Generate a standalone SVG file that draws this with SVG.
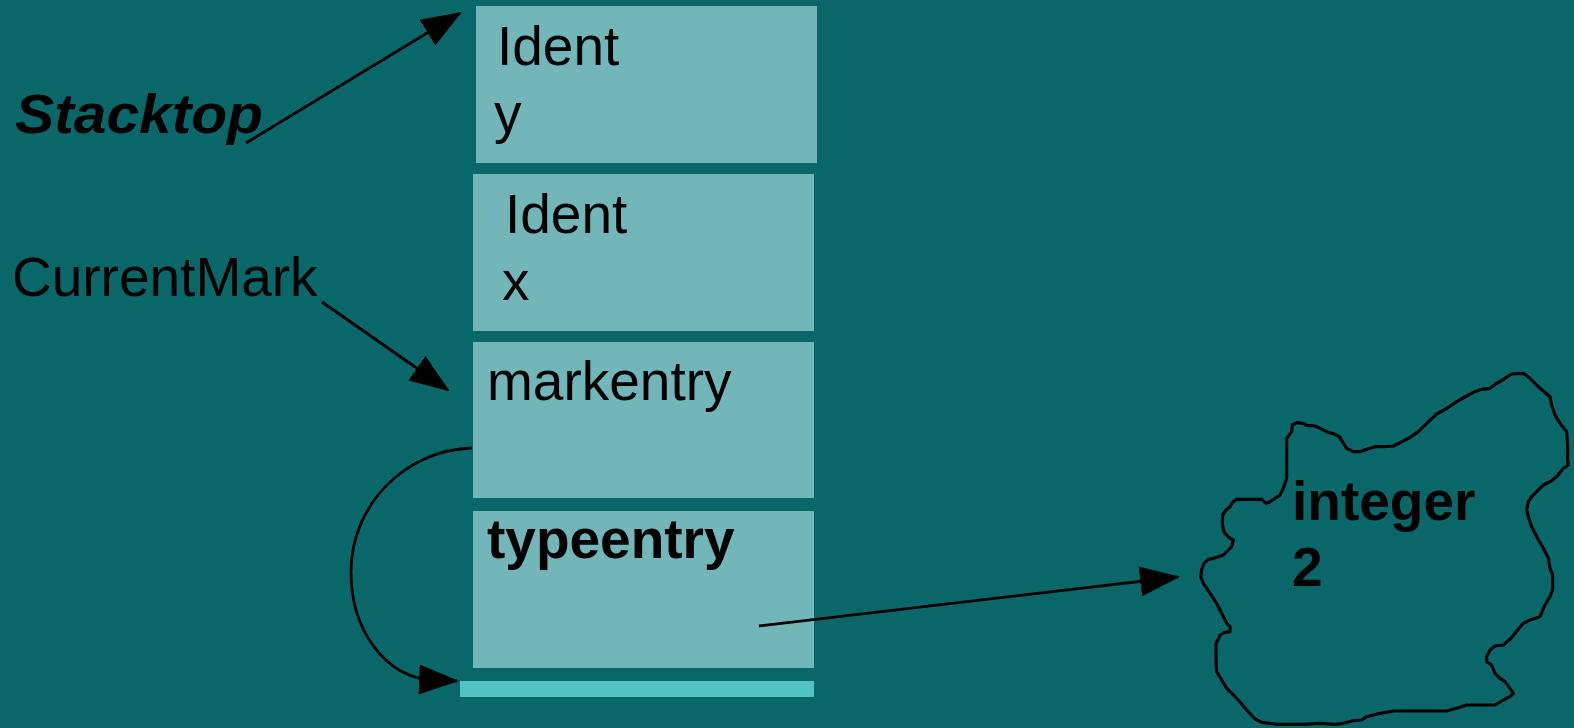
<svg xmlns="http://www.w3.org/2000/svg" width="1574" height="728" viewBox="0 0 1574 728">
<defs>
<style>
.bg{fill:#0a6769}
.box{fill:#72b6b9}
.bar{fill:#52c4c4}
.t{font-family:"Liberation Sans",Arial,sans-serif;font-size:55px;fill:#000}
.b{font-weight:bold}
.c{fill:none;stroke:#000;stroke-width:2.8}
</style>
<marker id="ah" markerUnits="userSpaceOnUse" viewBox="0 0 40 30" markerWidth="40" markerHeight="30" refX="38" refY="15" orient="auto">
<path d="M0,0 L40,15 L0,30 Z" fill="#000"/>
</marker>
</defs>
<rect class="bg" x="0" y="0" width="1574" height="728"/>
<g id="node-ident-y">
<rect class="box" x="476" y="6" width="341" height="157"/>
<text class="t" x="497" y="65">Ident</text>
<text class="t" x="494" y="132">y</text>
</g>
<g id="node-ident-x">
<rect class="box" x="473" y="174" width="341" height="157"/>
<text class="t" x="505" y="233">Ident</text>
<text class="t" x="502" y="300">x</text>
</g>
<g id="node-markentry">
<rect class="box" x="473" y="342" width="341" height="156"/>
<text class="t" x="487" y="400">markentry</text>
</g>
<g id="node-typeentry">
<rect class="box" x="473" y="511" width="341" height="157"/>
<text class="t b" x="487" y="558">typeentry</text>
</g>
<g id="node-bar">
<rect class="bar" x="460" y="681" width="354" height="16"/>
</g>
<g id="label-stacktop">
<text class="t b" x="15" y="133" font-style="italic" font-size="65" textLength="248" lengthAdjust="spacingAndGlyphs">Stacktop</text>
</g>
<g id="label-currentmark">
<text class="t" x="12" y="296">CurrentMark</text>
</g>
<g id="node-integer">
<path transform="translate(1180,360) scale(0.33333)" fill="none" stroke="#000" stroke-width="9.5" stroke-linejoin="round" d="M320,235 L335,215 L337,195 L350,188 L370,190 L380,196 L405,198 L420,205 L440,215 L462,222 L478,230 L490,250 L500,265 L520,275 L540,275 L560,268 L585,260 L610,260 L640,258 L660,248 L690,232 L715,215 L740,190 L770,162 L800,145 L830,125 L860,108 L885,95 L905,88 L930,85 L950,70 L975,55 L995,42 L1030,40 L1050,55 L1080,85 L1110,110 L1115,135 L1125,165 L1140,190 L1160,215 L1163,260 L1163,300 L1165,315 L1150,325 L1130,350 L1110,365 L1090,375 L1070,395 L1055,410 L1045,425 L1040,450 L1045,470 L1055,500 L1070,530 L1090,565 L1105,595 L1110,625 L1118,645 L1118,690 L1110,710 L1095,735 L1080,770 L1050,780 L1030,790 L1005,820 L990,838 L970,855 L945,858 L930,870 L920,890 L920,905 L935,915 L945,940 L960,955 L975,965 L990,985 L1000,1000 L990,1010 L970,1020 L945,1035 L910,1035 L860,1035 L830,1045 L800,1053 L760,1053 L700,1053 L640,1053 L600,1060 L560,1070 L545,1080 L520,1082 L490,1090 L465,1093 L420,1090 L370,1093 L330,1093 L290,1093 L245,1087 L225,1077 L200,1050 L175,1020 L150,995 L140,985 L125,960 L110,935 L108,900 L108,850 L115,838 L120,825 L132,818 L150,815 L150,800 L140,790 L130,770 L120,750 L110,730 L100,715 L90,700 L80,685 L70,670 L62,650 L65,630 L72,610 L85,598 L100,595 L115,590 L130,585 L145,570 L155,560 L160,540 L150,535 L135,520 L130,510 L127,490 L128,465 L138,450 L150,440 L160,425 L170,418 L200,418 L245,418 L258,430 L270,425 L285,415 L300,405 L310,385 L315,370 L320,355 L320,300 L320,260 Z"/>
<text class="t b" x="1292" y="520">integer</text>
<text class="t b" x="1292" y="586">2</text>
</g>
<g id="connectors">
<line class="c" x1="246" y1="143" x2="460" y2="13" marker-end="url(#ah)"/>
<line class="c" x1="322" y1="302" x2="448" y2="390" marker-end="url(#ah)"/>
<line class="c" x1="759" y1="626" x2="1178" y2="577" marker-end="url(#ah)"/>
<path class="c" d="M472,448 C405,450 351,505 351,572 C351,630 385,677 432,680 L457,681" marker-end="url(#ah)"/>
</g>
</svg>
